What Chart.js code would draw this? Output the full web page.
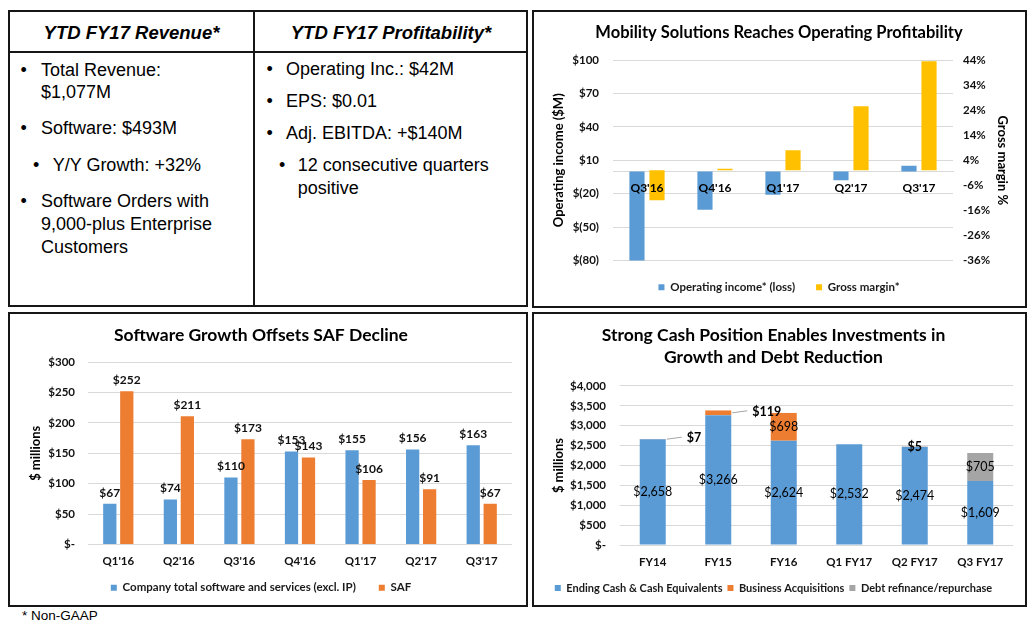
<!DOCTYPE html>
<html><head><meta charset="utf-8">
<script src="https://cdn.jsdelivr.net/npm/chart.js@4.4.0/dist/chart.umd.min.js"></script>
<style>
html,body{margin:0;padding:0;background:#fff;}
body{width:1035px;height:628px;position:relative;overflow:hidden;font-family:"Liberation Sans",Arial,sans-serif;color:#000;}
.box{position:absolute;border:2px solid #161616;box-sizing:border-box;}
.ln{position:absolute;background:#161616;}
.t{position:absolute;font-size:18px;line-height:23px;white-space:nowrap;}
.h{position:absolute;font-size:18.5px;line-height:23px;font-weight:bold;font-style:italic;white-space:nowrap;text-align:center;}
.cw{position:absolute;}
</style></head><body>

<div class="box" style="left:8px;top:10px;width:520px;height:297px;"></div>
<div class="ln" style="left:253px;top:10px;width:2px;height:297px;"></div>
<div class="ln" style="left:8px;top:51px;width:520px;height:2px;"></div>
<div class="h" style="left:10px;top:20.5px;width:243px;">YTD FY17 Revenue*</div>
<div class="h" style="left:255px;top:20.5px;width:272px;">YTD FY17 Profitability*</div>

<div class="t" style="left:20.5px;top:59px;">•</div>
<div class="t" style="left:41px;top:59px;">Total Revenue:</div>
<div class="t" style="left:41px;top:81.4px;">$1,077M</div>
<div class="t" style="left:20.5px;top:117px;">•</div>
<div class="t" style="left:41px;top:117px;">Software: $493M</div>
<div class="t" style="left:33px;top:153.7px;">•</div>
<div class="t" style="left:52.7px;top:153.7px;">Y/Y Growth: +32%</div>
<div class="t" style="left:20.5px;top:190.4px;">•</div>
<div class="t" style="left:41px;top:190.4px;">Software Orders with</div>
<div class="t" style="left:41px;top:213px;">9,000-plus Enterprise</div>
<div class="t" style="left:41px;top:236px;">Customers</div>

<div class="t" style="left:266.5px;top:58px;">•</div>
<div class="t" style="left:286px;top:58px;">Operating Inc.: $42M</div>
<div class="t" style="left:266.5px;top:90.4px;">•</div>
<div class="t" style="left:286px;top:90.4px;">EPS: $0.01</div>
<div class="t" style="left:266.5px;top:122px;">•</div>
<div class="t" style="left:286px;top:122px;">Adj. EBITDA: +$140M</div>
<div class="t" style="left:279px;top:154.4px;">•</div>
<div class="t" style="left:297.7px;top:154.4px;">12 consecutive quarters</div>
<div class="t" style="left:297.7px;top:177px;">positive</div>

<div class="box" style="left:532px;top:10px;width:495px;height:298px;"></div>
<div class="box" style="left:8px;top:312px;width:520px;height:295px;"></div>
<div class="box" style="left:532px;top:312px;width:495px;height:295px;"></div>

<div class="cw" style="left:534px;top:12px;width:490px;height:294px;"><canvas id="c1"></canvas></div>
<div class="cw" style="left:10px;top:314px;width:516px;height:291px;"><canvas id="c2"></canvas></div>
<div class="cw" style="left:534px;top:314px;width:491px;height:291px;"><canvas id="c3"></canvas></div>

<div class="t" style="left:22px;top:607px;font-size:13.5px;line-height:17px;">* Non-GAAP</div>

<script>
// ---------- data ----------
const mobCategories = ["Q3'16", "Q4'16", "Q1'17", "Q2'17", "Q3'17"];
const mobOperatingIncome = [-80.5, -34.5, -21, -8, 5];
const mobGrossMargin = [-12, 0.6, 8, 25.5, 43.5];
const mobLeftAxis = [-80, 100, 30];   // min, max, step
const mobRightAxis = [-36, 44, 10];

const swCategories = ["Q1'16", "Q2'16", "Q3'16", "Q4'16", "Q1'17", "Q2'17", "Q3'17"];
const swSoftware = [67, 74, 110, 153, 155, 156, 163];
const swSAF = [252, 211, 173, 143, 106, 91, 67];
const swAxis = [0, 300, 50];

const cashCategories = ["FY14", "FY15", "FY16", "Q1 FY17", "Q2 FY17", "Q3 FY17"];
const cashEnding = [2658, 3266, 2624, 2532, 2474, 1609];
const cashAcquisitions = [7, 119, 698, 0, 5, 0];
const cashDebt = [0, 0, 0, 0, 0, 705];
const cashAxis = [0, 4000, 500];

// ---------- styling ----------
const BLUE = '#5B9BD5', ORANGE = '#ED7D31', GOLD = '#FFC000', GRAY = '#A5A5A5', GRID = '#d9d9d9';
const FONT = "Lato, 'Open Sans', sans-serif";
Chart.defaults.font.family = FONT;
Chart.defaults.color = '#111';
Chart.defaults.animation = false;

const money = v => '$' + Number(v).toLocaleString('en-US');
const tickFont = {size: 11.5, weight: 'bold'};
const axisTitleFont = {size: 13, weight: 'bold'};
const noClip = s => { s._computeLabelArea = () => undefined; };

// ---------- chart 1 ----------
new Chart(document.getElementById('c1'), {
  type: 'bar',
  data: {
    labels: mobCategories,
    datasets: [
      {label: 'Operating income* (loss)', data: mobOperatingIncome, backgroundColor: BLUE, yAxisID: 'y', barPercentage: 0.756, categoryPercentage: 0.59},
      {label: 'Gross margin*', data: mobGrossMargin, backgroundColor: GOLD, yAxisID: 'y1', barPercentage: 0.756, categoryPercentage: 0.59}
    ]
  },
  options: {
    responsive: true, maintainAspectRatio: false,
    layout: {padding: {left: 0, right: 0, top: 0, bottom: 3}},
    plugins: {
      title: {display: true, text: 'Mobility Solutions Reaches Operating Profitability', font: {size: 16.5, weight: 'bold'}, color: '#000', padding: {top: 11, bottom: 17.2}},
      legend: {position: 'bottom', labels: {boxWidth: 6, boxHeight: 6, padding: 21, font: {size: 11.5, weight: 'bold'}, color: '#1a1a1a'}},
      tooltip: {enabled: false}
    },
    scales: {
      x: {position: {y: 0}, grid: {display: false, drawTicks: false}, border: {display: true, color: GRID},
          ticks: {z: 1, padding: 10, font: {size: 12, weight: 'bold'}, color: '#000'}},
      y: {position: 'left', min: mobLeftAxis[0], max: mobLeftAxis[1],
          ticks: {stepSize: mobLeftAxis[2], padding: 14, font: tickFont, color: '#111',
                  callback: v => v < 0 ? '$(' + (-v) + ')' : '$' + v},
          grid: {color: GRID, drawTicks: false}, border: {display: false},
          title: {display: true, text: 'Operating income ($M)', font: axisTitleFont, color: '#000', padding: {top: 17, bottom: 0}},
          afterFit: s => { s.width = 79; }},
      y1: {position: 'right', min: mobRightAxis[0], max: mobRightAxis[1],
          ticks: {stepSize: mobRightAxis[2], padding: 10, font: tickFont, color: '#111', callback: v => v + '%'},
          grid: {display: false, drawTicks: false}, border: {display: false},
          title: {display: true, text: 'Gross margin %', font: axisTitleFont, color: '#000', padding: {top: 14, bottom: 0}},
          afterFit: s => { s.width = 71; }}
    }
  }
});

// ---------- chart 2 ----------
const topLabels = {
  id: 'topLabels',
  afterDatasetsDraw(chart) {
    const ctx = chart.ctx;
    ctx.save();
    ctx.font = "bold 12px " + FONT;
    ctx.fillStyle = '#111';
    ctx.textAlign = 'center';
    ctx.textBaseline = 'bottom';
    chart.data.datasets.forEach((ds, di) => {
      chart.getDatasetMeta(di).data.forEach((el, i) => {
        ctx.fillText(money(ds.data[i]), el.x, el.y - 5);
      });
    });
    ctx.restore();
  }
};

new Chart(document.getElementById('c2'), {
  type: 'bar',
  data: {
    labels: swCategories,
    datasets: [
      {label: 'Company total software and services (excl. IP)', data: swSoftware, backgroundColor: BLUE, barPercentage: 0.78, categoryPercentage: 0.561},
      {label: 'SAF', data: swSAF, backgroundColor: ORANGE, barPercentage: 0.78, categoryPercentage: 0.561}
    ]
  },
  plugins: [topLabels],
  options: {
    responsive: true, maintainAspectRatio: false,
    layout: {padding: {left: 0, right: 14, top: 0, bottom: 1.5}},
    plugins: {
      title: {display: true, text: 'Software Growth Offsets SAF Decline', font: {size: 17.5, weight: 'bold'}, color: '#000', padding: {top: 10.5, bottom: 16.5}},
      legend: {position: 'bottom', labels: {boxWidth: 6, boxHeight: 6, padding: 23, font: {size: 11.5, weight: 'bold'}, color: '#1a1a1a'}},
      tooltip: {enabled: false}
    },
    scales: {
      x: {grid: {display: false, drawTicks: false}, border: {display: false},
          ticks: {padding: 10, font: tickFont, color: '#111'},
          afterFit: s => { s.height = 14.5; noClip(s); }},
      y: {min: swAxis[0], max: swAxis[1],
          ticks: {stepSize: swAxis[2], padding: 13, font: tickFont, color: '#111', callback: v => v === 0 ? '$-' : money(v)},
          grid: {color: GRID, drawTicks: false}, border: {display: false},
          title: {display: true, text: '$ millions', font: axisTitleFont, color: '#000', padding: {top: 18, bottom: 0}},
          afterFit: s => { s.width = 78; }}
    }
  }
});

// ---------- chart 3 ----------
const stackLabels = {
  id: 'stackLabels',
  afterDatasetsDraw(chart, args, opts) {
    const ctx = chart.ctx;
    const callouts = opts.callouts || [];
    ctx.save();
    ctx.fillStyle = '#000';
    ctx.textBaseline = 'middle';
    chart.data.datasets.forEach((ds, di) => {
      chart.getDatasetMeta(di).data.forEach((el, i) => {
        const v = ds.data[i];
        if (!v) return;
        const top = el.y, base = el.base, mid = (top + base) / 2;
        const h = Math.abs(base - top);
        const txt = money(v);
        if (h >= 14) {
          ctx.font = "12.5px " + FONT;
          ctx.textAlign = 'center';
          ctx.fillText(txt, el.x, mid);
        } else if (di === 1 && callouts.includes(i)) {
          const right = el.x + el.width / 2;
          ctx.strokeStyle = '#a6a6a6';
          ctx.lineWidth = 1;
          ctx.beginPath();
          ctx.moveTo(right + 1, mid);
          ctx.lineTo(right + 16, mid - 2);
          ctx.stroke();
          ctx.font = "bold 12.5px " + FONT;
          ctx.textAlign = 'left';
          ctx.fillText(txt, right + 21, mid - 1);
        } else {
          ctx.font = "bold 12.5px " + FONT;
          ctx.textAlign = 'center';
          ctx.fillText(txt, el.x, mid);
        }
      });
    });
    ctx.restore();
  }
};

new Chart(document.getElementById('c3'), {
  type: 'bar',
  data: {
    labels: cashCategories,
    datasets: [
      {label: 'Ending Cash & Cash Equivalents', data: cashEnding, backgroundColor: BLUE, barPercentage: 0.397, categoryPercentage: 1},
      {label: 'Business Acquisitions', data: cashAcquisitions, backgroundColor: ORANGE, barPercentage: 0.397, categoryPercentage: 1},
      {label: 'Debt refinance/repurchase', data: cashDebt, backgroundColor: GRAY, barPercentage: 0.397, categoryPercentage: 1}
    ]
  },
  plugins: [stackLabels],
  options: {
    responsive: true, maintainAspectRatio: false,
    layout: {padding: {left: 0, right: 12, top: 0, bottom: 1.5}},
    plugins: {
      title: {display: true, text: ['Strong Cash Position Enables Investments in', 'Growth and Debt Reduction'], font: {size: 17.5, weight: 'bold', lineHeight: 1.257}, color: '#000', padding: {top: 10, bottom: 18}},
      legend: {position: 'bottom', labels: {boxWidth: 6, boxHeight: 6, padding: 5, font: {size: 11, weight: 'bold'}, color: '#1a1a1a'}},
      tooltip: {enabled: false},
      stackLabels: {callouts: [0, 1]}
    },
    scales: {
      x: {stacked: true, grid: {display: false, drawTicks: false}, border: {display: false},
          ticks: {padding: 10, font: tickFont, color: '#111'},
          afterFit: s => { s.height = 32.5; noClip(s); }},
      y: {stacked: true, min: cashAxis[0], max: cashAxis[1],
          ticks: {stepSize: cashAxis[2], padding: 14, font: tickFont, color: '#111', callback: v => v === 0 ? '$-' : money(v)},
          grid: {color: GRID, drawTicks: false}, border: {display: false},
          title: {display: true, text: '$ millions', font: axisTitleFont, color: '#000', padding: {top: 17, bottom: 0}},
          afterFit: s => { s.width = 86; }}
    }
  }
});
</script>
</body></html>
